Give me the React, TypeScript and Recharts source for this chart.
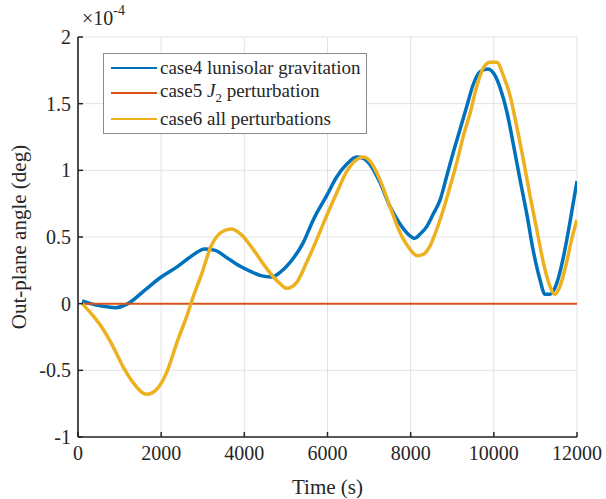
import { LineChart, Line, XAxis, YAxis, CartesianGrid, Label } from "recharts";

// time (s) and out-plane angle (x 1e-4 deg)
const case4Time = [
  100, 300, 600, 900, 1200, 1600, 2000, 2400, 2700, 3050, 3300, 3600, 3900, 4160, 4400,
  4650, 4860, 5100, 5420, 5660, 5980, 6220, 6460, 6700, 6860, 7020, 7260, 7500, 7740,
  7980, 8100, 8220, 8390, 8540, 8710, 8870, 9020, 9190, 9350, 9500, 9670, 9860, 10030,
  10150, 10320, 10460, 10630, 10800, 10940, 11110, 11230, 11350, 11520, 11660, 11830, 12000,
];
const case4Angle = [
  0.02, 0.0, -0.02, -0.03, 0.0, 0.1, 0.2, 0.28, 0.35, 0.41, 0.4, 0.34, 0.28, 0.24, 0.21,
  0.2, 0.235, 0.31, 0.46, 0.63, 0.81, 0.95, 1.045, 1.1, 1.09, 1.045, 0.91, 0.73, 0.6,
  0.51, 0.49, 0.52, 0.58, 0.67, 0.78, 0.96, 1.13, 1.31, 1.48, 1.64, 1.74, 1.76, 1.71,
  1.62, 1.43, 1.21, 0.93, 0.66, 0.41, 0.18, 0.07, 0.07, 0.16, 0.33, 0.61, 0.92,
];

const case5Time = [100, 12000];
const case5Angle = [0, 0];

const case6Time = [
  100, 360, 600, 840, 1080, 1320, 1650, 1900, 2140, 2380, 2620, 2780, 2960, 3200, 3440,
  3680, 3920, 4160, 4500, 4700, 4860, 5020, 5260, 5500, 5740, 5980, 6220, 6460, 6700,
  6860, 7020, 7260, 7500, 7740, 7980, 8150, 8300, 8460, 8630, 8790, 8950, 9110, 9270,
  9430, 9590, 9750, 9910, 10070, 10230, 10390, 10550, 10710, 10870, 11030, 11190, 11350,
  11470, 11590, 11750, 11870, 12000,
];
const case6Angle = [
  0.0, -0.09, -0.19, -0.32, -0.47, -0.59, -0.68, -0.64, -0.51, -0.29, -0.09, 0.06, 0.21,
  0.43, 0.535, 0.56, 0.52, 0.43, 0.28, 0.2, 0.15, 0.115, 0.16, 0.31, 0.48, 0.66, 0.83,
  0.99, 1.08, 1.1, 1.07, 0.93, 0.73, 0.535, 0.41, 0.36, 0.37, 0.43, 0.56, 0.71, 0.88,
  1.06, 1.26, 1.43, 1.63, 1.77, 1.81, 1.81, 1.71, 1.56, 1.33, 1.08, 0.81, 0.56, 0.31,
  0.13, 0.07, 0.13, 0.31, 0.48, 0.63,
];

const xTicks = [0, 2000, 4000, 6000, 8000, 10000, 12000];
const yTicks = [-1, -0.5, 0, 0.5, 1, 1.5, 2];

const seriesNames = ["case4 lunisolar gravitation", "case5 J2 perturbation", "case6 all perturbations"];

const toPoints = (t: number[], v: number[]) => t.map((time, i) => ({ t: time, v: v[i] }));

const FONT = '"Liberation Serif", "Times New Roman", serif';
const AXIS = "#262626";
const COLORS = ["#0072BD", "#D95319", "#EDB120"];

function BottomTick({ x, y, payload }: any) {
  return (
    <g>
      <line x1={x} y1={y} x2={x} y2={y - 5} stroke={AXIS} strokeWidth={1.5} />
      <text x={x} y={y + 23} textAnchor="middle" fontSize={20} fontFamily={FONT} fill={AXIS}>
        {payload.value}
      </text>
    </g>
  );
}

function LeftTick({ x, y, payload }: any) {
  return (
    <g>
      <line x1={x} y1={y} x2={x + 5} y2={y} stroke={AXIS} strokeWidth={1.5} />
      <text x={x - 7} y={y + 7} textAnchor="end" fontSize={20} fontFamily={FONT} fill={AXIS}>
        {payload.value}
      </text>
    </g>
  );
}

const TopTick = ({ x, y }: any) => (
  <line x1={x} y1={y} x2={x} y2={y + 5} stroke={AXIS} strokeWidth={1.5} />
);
const RightTick = ({ x, y }: any) => (
  <line x1={x} y1={y} x2={x - 5} y2={y} stroke={AXIS} strokeWidth={1.5} />
);

function Legend() {
  return (
    <div
      style={{
        position: "absolute",
        left: 103,
        top: 53,
        width: 262,
        height: 79,
        border: "1px solid #8a8a8a",
        background: "#fff",
        fontFamily: FONT,
        fontSize: 19,
        color: AXIS,
      }}
    >
      {seriesNames.map((name, i) => (
        <div
          key={name}
          style={{ position: "absolute", left: 6, top: [2, 26, 53][i], display: "flex", alignItems: "center", whiteSpace: "nowrap" }}
        >
          <svg width={48} height={24}>
            <line x1={1} x2={47} y1={12} y2={12} stroke={COLORS[i]} strokeWidth={2} />
          </svg>
          <span style={{ marginLeft: 2 }}>
            {i === 1 ? (
              <>
                case5 <i>J</i>
                <sub style={{ fontSize: 13 }}>2</sub> perturbation
              </>
            ) : (
              name
            )}
          </span>
        </div>
      ))}
    </div>
  );
}

export default function App() {
  return (
    <div style={{ position: "absolute", left: 0, top: 0, width: 606, height: 499, background: "#fff" }}>
      <LineChart width={606} height={499} margin={{ top: 37, right: 29, left: 0, bottom: 0 }}>
        <CartesianGrid stroke="#e2e2e2" strokeWidth={1} />
        <XAxis
          type="number"
          dataKey="t"
          domain={[0, 12000]}
          ticks={xTicks}
          interval={0}
          height={62}
          tickSize={0}
          tickMargin={0}
          tickLine={false}
          axisLine={{ stroke: AXIS, strokeWidth: 1.6 }}
          tick={<BottomTick />}
          allowDataOverflow
        >
          <Label
            content={({ viewBox }: any) => (
              <text
                x={viewBox.x + viewBox.width / 2}
                y={viewBox.y + 57}
                textAnchor="middle"
                fontSize={21}
                fontFamily={FONT}
                fill={AXIS}
              >
                Time (s)
              </text>
            )}
          />
        </XAxis>
        <XAxis
          xAxisId="top"
          orientation="top"
          type="number"
          dataKey="t"
          domain={[0, 12000]}
          ticks={xTicks}
          interval={0}
          height={0}
          tickSize={0}
          tickLine={false}
          axisLine={{ stroke: AXIS, strokeWidth: 1.6 }}
          tick={<TopTick />}
        />
        <YAxis
          type="number"
          domain={[-1, 2]}
          ticks={yTicks}
          interval={0}
          width={78}
          tickSize={0}
          tickMargin={0}
          tickLine={false}
          axisLine={{ stroke: AXIS, strokeWidth: 1.6 }}
          tick={<LeftTick />}
          allowDataOverflow
        >
          <Label
            content={({ viewBox }: any) => {
              const cx = 26;
              const cy = viewBox.y + viewBox.height / 2;
              return (
                <text
                  x={cx}
                  y={cy}
                  transform={`rotate(-90 ${cx} ${cy})`}
                  textAnchor="middle"
                  fontSize={21}
                  fontFamily={FONT}
                  fill={AXIS}
                >
                  Out-plane angle (deg)
                </text>
              );
            }}
          />
        </YAxis>
        <YAxis
          yAxisId="right"
          orientation="right"
          type="number"
          domain={[-1, 2]}
          ticks={yTicks}
          interval={0}
          width={0}
          tickSize={0}
          tickLine={false}
          axisLine={{ stroke: AXIS, strokeWidth: 1.6 }}
          tick={<RightTick />}
        />
        {/* thick strokes stand in for the high-frequency jitter of the original */}
        <Line
          type="monotone"
          data={toPoints(case4Time, case4Angle)}
          dataKey="v"
          name={seriesNames[0]}
          stroke={COLORS[0]}
          strokeWidth={3.5}
          dot={false}
          isAnimationActive={false}
        />
        <Line
          data={toPoints(case5Time, case5Angle)}
          dataKey="v"
          name={seriesNames[1]}
          stroke={COLORS[1]}
          strokeWidth={2}
          dot={false}
          isAnimationActive={false}
        />
        <Line
          type="monotone"
          data={toPoints(case6Time, case6Angle)}
          dataKey="v"
          name={seriesNames[2]}
          stroke={COLORS[2]}
          strokeWidth={3.5}
          dot={false}
          isAnimationActive={false}
        />
      </LineChart>
      <div style={{ position: "absolute", left: 82, top: 5, fontFamily: FONT, fontSize: 20, color: AXIS, whiteSpace: "nowrap" }}>
        ×10<sup style={{ fontSize: 14, position: "relative", top: -2 }}>-4</sup>
      </div>
      <Legend />
    </div>
  );
}
